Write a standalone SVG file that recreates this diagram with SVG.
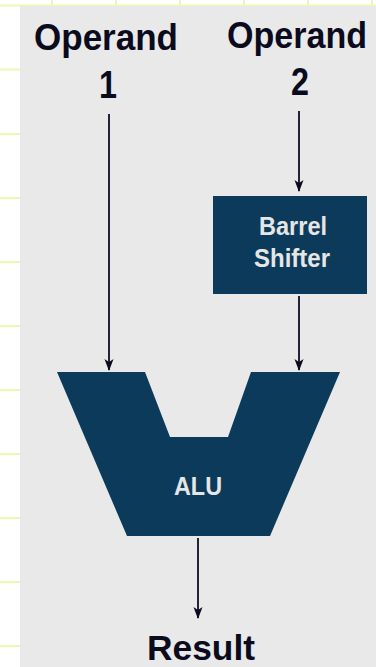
<svg xmlns="http://www.w3.org/2000/svg" width="376" height="667" viewBox="0 0 376 667">
<defs>
<style>
.grid{stroke:#eef7b4;stroke-width:2;fill:none}
.lbl{font-family:"Liberation Sans",Arial,sans-serif;font-weight:bold;fill:#0b0b1e;text-anchor:middle}
.in{font-family:"Liberation Sans",Arial,sans-serif;font-weight:bold;fill:#e6e6e6;text-anchor:middle}
.shape{fill:#0c3a5b}
.conn{stroke:#23233a;stroke-width:2;fill:none;marker-end:url(#arr)}
</style>
<marker id="arr" viewBox="0 0 12 10" refX="11" refY="5" markerWidth="12" markerHeight="10" markerUnits="userSpaceOnUse" orient="auto">
<path d="M0,0.5 L12,5 L0,9.5 L3,5 Z" fill="#0b0b1e"/>
</marker>
</defs>
<rect width="376" height="667" fill="#ffffff"/>
<g class="grid">
<path d="M52,0V6M116,0V6M180,0V6M244,0V6M308,0V6M372,0V6"/>
<path d="M0,5.5H376M0,69.5H20M0,134H20M0,198H20M0,262H20M0,326H20M0,390H20M0,454H20M0,518H20M0,582H20M0,646H20"/>
</g>
<rect x="20" y="6" width="356" height="661" fill="#e9e9e9"/>
<g id="operand1">
<text class="lbl" x="106" y="50" font-size="37" textLength="144" lengthAdjust="spacingAndGlyphs">Operand</text>
<text class="lbl" x="108" y="98" font-size="38" transform="translate(108 0) scale(0.85 1) translate(-108 0)">1</text>
</g>
<g id="operand2">
<text class="lbl" x="297" y="48" font-size="36" textLength="140" lengthAdjust="spacingAndGlyphs">Operand</text>
<text class="lbl" x="300" y="95" font-size="38" transform="translate(300 0) scale(0.85 1) translate(-300 0)">2</text>
</g>
<g id="barrel">
<rect class="shape" x="213" y="196" width="154" height="98"/>
<text class="in" x="293" y="235" font-size="25" textLength="68" lengthAdjust="spacingAndGlyphs">Barrel</text>
<text class="in" x="292" y="267" font-size="25" textLength="76" lengthAdjust="spacingAndGlyphs">Shifter</text>
</g>
<g id="alu">
<path class="shape" d="M57,372 L145,372 L170,437 L228,437 L251,372 L340,372 L270,536 L127,536 Z"/>
<text class="in" x="198" y="495" font-size="26" textLength="48" lengthAdjust="spacingAndGlyphs">ALU</text>
</g>
<g id="result">
<text class="lbl" x="201" y="660" font-size="35" textLength="108" lengthAdjust="spacingAndGlyphs">Result</text>
</g>
<g id="connectors">
<path class="conn" d="M109,114 V370"/>
<path class="conn" d="M299,111 V191"/>
<path class="conn" d="M299,296 V370"/>
<path class="conn" d="M198,538 V618"/>
</g>
</svg>
